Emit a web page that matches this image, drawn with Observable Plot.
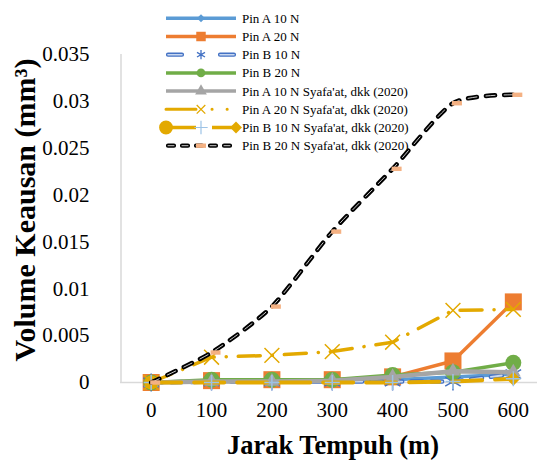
<!DOCTYPE html>
<html><head><meta charset="utf-8">
<script src="https://cdn.jsdelivr.net/npm/d3@7"></script>
<script src="https://cdn.jsdelivr.net/npm/@observablehq/plot@0.6"></script>
<style>
html,body{margin:0;padding:0;background:#fff;}
#chart{position:relative;width:537px;height:461px;overflow:hidden;}
</style></head><body><div id="chart"></div>
<script>
// ---- data ----
const distances = [0, 100, 200, 300, 400, 500, 600];
const xTickLabels = ["0", "100", "200", "300", "400", "500", "600"];
const yTicks = [0, 0.005, 0.01, 0.015, 0.02, 0.025, 0.03, 0.035];
const yTickLabels = ["0", "0.005", "0.01", "0.015", "0.02", "0.025", "0.03", "0.035"];

const seriesNames = [
  "Pin A 10 N", "Pin A 20 N", "Pin B 10 N", "Pin B 20 N",
  "Pin A 10 N Syafa'at, dkk (2020)", "Pin A 20 N Syafa'at, dkk (2020)",
  "Pin B 10 N Syafa'at, dkk (2020)", "Pin B 20 N Syafa'at, dkk (2020)"
];
const pinA10 = [0, 0.0001, 0.0001, 0.0002, 0.0003, 0.0006, 0.0009];
const pinA20 = [0, 0.0002, 0.0003, 0.0003, 0.0006, 0.0023, 0.0086];
const pinB10 = [0, 0.0001, 0.0001, 0.0001, 0.0001, 0.0001, 0.0009];
const pinB20 = [0, 0.0003, 0.0003, 0.0003, 0.0008, 0.0011, 0.0021];
const pinA10S = [0, 0.0001, 0.0001, 0.0002, 0.0006, 0.0012, 0.0011];
const pinA20S = [0, 0.0027, 0.0029, 0.0033, 0.0043, 0.0077, 0.0078];
const pinB10S = [0, 0, 0, 0, 0, 0.0001, 0.0004];
const pinB20S = [0, 0.0032, 0.0081, 0.0161, 0.0228, 0.0298, 0.0307];

const xTitle = "Jarak Tempuh (m)";
const yTitle = "Volume Keausan (mm³)";

// ---- build table ----
const seriesValues = [pinA10, pinA20, pinB10, pinB20, pinA10S, pinA20S, pinB10S, pinB20S];
const rows = seriesNames.flatMap((name, i) =>
  distances.map((x, j) => ({series: name, x, y: seriesValues[i][j], idx: j})));
const S = i => rows.filter(r => r.series === seriesNames[i]);

const BLUE = "#5B9BD5", ORANGE = "#ED7D31", DBLUE = "#4472C4", GREEN = "#70AD47",
      GREY = "#A5A5A5", GOLD = "#E3A900", LBLUE = "#9DC3E6", SALMON = "#F4B183";

const dashSymbol = {draw(ctx, size) { ctx.rect(-5, -2.2, 10, 4.4); }};

const serif = "Liberation Serif, Times New Roman, serif";

const plot = Plot.plot({
  width: 537, height: 461,
  marginLeft: 120, marginRight: 0, marginTop: 54, marginBottom: 79,
  x: {domain: [-50, 650], range: [120.5, 543]},
  y: {domain: [0, 0.035], range: [382, 54]},
  style: {fontFamily: serif, fontSize: "21px", background: "#fff", color: "#000"},
  marks: [
    Plot.ruleY([0], {stroke: "#d9d9d9", strokeWidth: 1.5}),
    Plot.ruleX([-50], {y1: 0, y2: 0.035, stroke: "#d9d9d9", strokeWidth: 1.5}),
    Plot.axisY({ticks: yTicks, tickFormat: d => yTickLabels[yTicks.indexOf(d)], tickSize: 0, tickPadding: 31, fontSize: 21, label: null}),
    Plot.axisX({ticks: distances, tickFormat: d => xTickLabels[distances.indexOf(d)], tickSize: 0, tickPadding: 20, fontSize: 21, label: null}),

    // Pin A 10 N
    Plot.line(S(0), {x: "x", y: "y", stroke: BLUE, strokeWidth: 3.5}),
    Plot.dot(S(0), {x: "x", y: "y", symbol: "diamond2", r: 5, fill: BLUE, stroke: BLUE, strokeWidth: 1}),
    // Pin A 20 N
    Plot.line(S(1), {x: "x", y: "y", stroke: ORANGE, strokeWidth: 3.5}),
    Plot.dot(S(1), {x: "x", y: "y", symbol: "square", r: 9.6, fill: ORANGE}),
    // Pin B 10 N
    Plot.line(S(2), {x: "x", y: "y", stroke: DBLUE, strokeWidth: 4.5, strokeDasharray: "11,9", strokeLinecap: "round"}),
    Plot.line(S(2), {x: "x", y: "y", stroke: "#C9D8F0", strokeWidth: 1.8, strokeDasharray: "11,9", strokeLinecap: "round"}),
    Plot.dot(S(2), {x: "x", y: "y", symbol: "asterisk", r: 8.5, stroke: DBLUE, strokeWidth: 1.5}),
    // Pin B 20 N
    Plot.line(S(3), {x: "x", y: "y", stroke: GREEN, strokeWidth: 3.5}),
    Plot.dot(S(3), {x: "x", y: "y", symbol: "circle", r: 8, fill: GREEN}),
    // Pin A 10 N Syafa'at
    Plot.line(S(4), {x: "x", y: "y", stroke: GREY, strokeWidth: 4.5}),
    Plot.dot(S(4), {x: "x", y: "y", symbol: "triangle", r: 5.5, fill: GREY}),
    // Pin A 20 N Syafa'at
    Plot.line(S(5), {x: "x", y: "y", stroke: GOLD, strokeWidth: 3.5, strokeDasharray: "22,12,0.1,12", strokeLinecap: "round"}),
    Plot.dot(S(5), {x: "x", y: "y", symbol: "times", r: 6.8, stroke: GOLD, strokeWidth: 1.5}),
    // Pin B 10 N Syafa'at
    Plot.line(S(6), {x: "x", y: "y", stroke: GOLD, strokeWidth: 4, strokeDasharray: "30,13"}),
    Plot.dot(S(6).filter(d => d.idx === 0), {x: "x", y: "y", symbol: "circle", r: 7, fill: GOLD}),
    Plot.dot(S(6).filter(d => d.idx === distances.length - 1), {x: "x", y: "y", symbol: "diamond2", r: 5.4, fill: GOLD, stroke: GOLD}),
    Plot.dot(S(6), {x: "x", y: "y", symbol: "plus", r: 4.9, stroke: LBLUE, strokeWidth: 1.5}),
    // Pin B 20 N Syafa'at
    Plot.line(S(7), {x: "x", y: "y", curve: "cardinal", tension: 0.3, stroke: "#000", strokeWidth: 4.5, strokeDasharray: "9,9", strokeLinecap: "round"}),
    Plot.line(S(7), {x: "x", y: "y", curve: "cardinal", tension: 0.3, stroke: "#fff", strokeWidth: 0.8, strokeDasharray: "9,9", strokeLinecap: "round"}),
    Plot.dot(S(7), {x: "x", y: "y", symbol: dashSymbol, r: 3, fill: SALMON, dx: 4})
  ]
});

document.getElementById("chart").appendChild(plot);

// ---- titles and legend ----
const svg = d3.select(plot);
svg.append("text")
  .attr("transform", "translate(24,210) rotate(-90)")
  .attr("text-anchor", "middle").attr("dy", "0.35em")
  .attr("font-family", serif).attr("font-weight", "bold").attr("font-size", 30)
  .attr("fill", "#000").text(yTitle);
svg.append("text")
  .attr("x", 333).attr("y", 454).attr("text-anchor", "middle")
  .attr("font-family", serif).attr("font-weight", "bold").attr("font-size", 26.5)
  .attr("fill", "#000").text(xTitle);

const lg = svg.append("g").attr("font-family", serif).attr("font-size", 13).attr("text-anchor", "start");
const sym = (type, size) => d3.symbol(type, size)();
const L0 = 166, L1 = 236, MX = 201;
seriesNames.forEach((name, i) => {
  const y = 18.3 + i * 18.2;
  const g = lg.append("g").attr("transform", `translate(0,${y})`);
  const line = (x0, x1, stroke, w, dash, cap) => g.append("line")
    .attr("x1", x0).attr("x2", x1).attr("y1", 0).attr("y2", 0)
    .attr("stroke", stroke).attr("stroke-width", w)
    .attr("stroke-dasharray", dash || null).attr("stroke-linecap", cap || "butt");
  const mark = (path, fill, stroke, sw, x) => g.append("path")
    .attr("d", path).attr("transform", `translate(${x === undefined ? MX : x},0)`)
    .attr("fill", fill || "none").attr("stroke", stroke || "none").attr("stroke-width", sw || 1);
  if (i === 0) { line(L0, L1, BLUE, 3.5); mark(sym(d3.symbolDiamond2, 40), BLUE); }
  if (i === 1) { line(L0, L1, ORANGE, 3.5); mark(sym(d3.symbolSquare, 90), ORANGE); }
  if (i === 2) {
    line(168, 234, DBLUE, 4.2, "14,38", "round"); line(168, 234, "#C9D8F0", 1.6, "14,38", "round");
    mark(sym(d3.symbolAsterisk, 60), null, DBLUE, 1.3);
  }
  if (i === 3) { line(L0, L1, GREEN, 3.5); mark(sym(d3.symbolCircle, 60), GREEN); }
  if (i === 4) { line(L0, L1, GREY, 3.5); mark(sym(d3.symbolTriangle, 60), GREY); }
  if (i === 5) {
    line(L0, 232, GOLD, 3, "30,16,0.1,15,0.1,100", "round");
    mark(sym(d3.symbolTimes, 50), null, GOLD, 1.3);
  }
  if (i === 6) {
    line(L0, L1, GOLD, 3.5, "30,16,30");
    mark(sym(d3.symbolCircle, 150), GOLD, null, 1, L0);
    mark(sym(d3.symbolDiamond2, 90), GOLD, null, 1, L1);
    mark(sym(d3.symbolPlus, 60), null, LBLUE, 1.2);
  }
  if (i === 7) {
    line(168, 236, "#000", 4.2, "6,8", "round"); line(168, 236, "#fff", 0.8, "6,8", "round");
    mark("M-5,-2.2h10v4.4h-10z", SALMON);
  }
  g.append("text").attr("x", 242).attr("dy", "0.35em").attr("fill", "#000").text(name);
});
</script>
</body></html>
